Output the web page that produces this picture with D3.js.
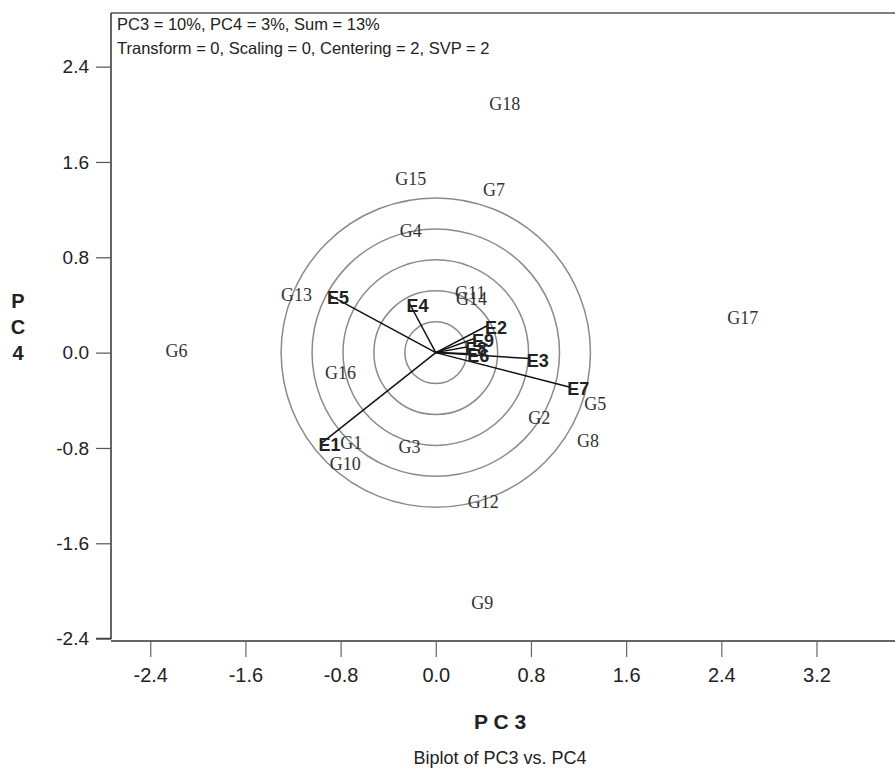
<!DOCTYPE html>
<html>
<head>
<meta charset="utf-8">
<script src="https://cdn.jsdelivr.net/npm/d3@7"></script>
<style>
  html, body { margin: 0; padding: 0; background: #fff; }
  svg { display: block; }
</style>
</head>
<body>
<svg id="chart" width="895" height="768"></svg>
<script>
// ---- Data ----
const genotypeNames = ["G1","G2","G3","G4","G5","G6","G7","G8","G9","G10","G11","G12","G13","G14","G15","G16","G17","G18"];
const genotypePC3 = [-0.71, 0.87, -0.22, -0.21, 1.34, -2.18, 0.49, 1.28, 0.39, -0.76, 0.29, 0.40, -1.17, 0.30, -0.21, -0.80, 2.58, 0.58];
const genotypePC4 = [-0.76, -0.55, -0.79, 1.02, -0.43, 0.02, 1.37, -0.74, -2.10, -0.93, 0.50, -1.25, 0.49, 0.45, 1.46, -0.17, 0.29, 2.09];

const envNames = ["E1","E2","E3","E4","E5","E6","E7","E8","E9"];
const envPC3 = [-0.96, 0.44, 0.79, -0.22, -0.89, 0.29, 1.13, 0.27, 0.33];
const envPC4 = [-0.76, 0.23, -0.05, 0.41, 0.48, -0.01, -0.29, 0.05, 0.12];

const circleRadii = [0.26, 0.52, 0.78, 1.04, 1.30];

const xTicks = [-2.4, -1.6, -0.8, 0.0, 0.8, 1.6, 2.4, 3.2];
const yTicks = [2.4, 1.6, 0.8, 0.0, -0.8, -1.6, -2.4];

const headerLines = ["PC3 = 10%, PC4 = 3%, Sum = 13%", "Transform = 0, Scaling = 0, Centering = 2, SVP = 2"];
const xTitle = "P C 3";
const yTitleChars = ["P", "C", "4"];
const chartTitle = "Biplot of PC3 vs. PC4";

// ---- Layout ----
const svg = d3.select("#chart");
const mLeft = 111, mRight = 895, mTop = 13, mBottom = 641;
const x = d3.scaleLinear().domain([-2.73, 3.86]).range([mLeft, mRight]);
const y = d3.scaleLinear().domain([-2.42, 2.85]).range([mBottom, mTop]);
const unit = x(1) - x(0);

const sans = "'Liberation Sans', Arial, sans-serif";
const serif = "'Liberation Serif', 'Times New Roman', serif";
const fmt = d => d3.format(".1f")(d).replace("\u2212", "-");

// frame top line
svg.append("line").attr("x1", mLeft).attr("x2", mRight).attr("y1", mTop).attr("y2", mTop)
  .attr("stroke", "#555").attr("stroke-width", 1.5);

// y axis
const yAxis = d3.axisLeft(y).tickValues(yTicks).tickFormat(fmt).tickSize(15).tickPadding(7);
const gy = svg.append("g").attr("transform", `translate(${mLeft},0)`).call(yAxis);
gy.select(".domain").attr("d", `M${-15},${y(-2.4)}H0V${mTop}`).attr("stroke", "#333").attr("stroke-width", 1.5);
gy.selectAll(".tick line").attr("stroke", "#555").attr("stroke-width", 1.2);
gy.selectAll(".tick text").attr("font-family", sans).attr("font-size", 19).attr("fill", "#222");

// x axis
const xAxis = d3.axisBottom(x).tickValues(xTicks).tickFormat(fmt).tickSize(16).tickPadding(11);
const gx = svg.append("g").attr("transform", `translate(0,${mBottom})`).call(xAxis);
gx.select(".domain").attr("d", `M${mLeft},0H${mRight}`).attr("stroke", "#333").attr("stroke-width", 1.5);
gx.selectAll(".tick line").attr("stroke", "#666").attr("stroke-width", 1.2);
gx.selectAll(".tick text").attr("font-family", sans).attr("font-size", 20).attr("fill", "#222");

// header
svg.append("g").selectAll("text").data(headerLines).join("text")
  .attr("x", mLeft + 6).attr("y", (d, i) => 30 + i * 24)
  .attr("font-family", sans).attr("font-size", 16.5).attr("fill", "#222")
  .text(d => d);

// concentric circles
svg.append("g").selectAll("circle").data(circleRadii).join("circle")
  .attr("cx", x(0)).attr("cy", y(0)).attr("r", d => d * unit)
  .attr("fill", "none").attr("stroke", "#8a8a8a").attr("stroke-width", 1.5);

// environment vectors
const envData = envNames.map((n, i) => ({ name: n, px: envPC3[i], py: envPC4[i] }));
svg.append("g").selectAll("line").data(envData).join("line")
  .attr("x1", x(0)).attr("y1", y(0))
  .attr("x2", d => x(d.px)).attr("y2", d => y(d.py))
  .attr("stroke", "#111").attr("stroke-width", 1.5);

// genotype labels
const genoData = genotypeNames.map((n, i) => ({ name: n, px: genotypePC3[i], py: genotypePC4[i] }));
svg.append("g").selectAll("text").data(genoData).join("text")
  .attr("x", d => x(d.px)).attr("y", d => y(d.py))
  .attr("text-anchor", "middle").attr("dy", "0.35em")
  .attr("font-family", serif).attr("font-size", 18).attr("fill", "#333")
  .text(d => d.name);

// environment labels
svg.append("g").selectAll("text").data(envData).join("text")
  .attr("x", d => x(d.px) + 8).attr("y", d => y(d.py) + 2)
  .attr("text-anchor", "middle").attr("dy", "0.35em")
  .attr("font-family", sans).attr("font-weight", "bold").attr("font-size", 18).attr("fill", "#222")
  .text(d => d.name);

// axis titles
const midX = (mLeft + mRight) / 2 - 3;
svg.append("text").attr("x", midX).attr("y", 729)
  .attr("text-anchor", "middle").attr("font-family", sans).attr("font-weight", "bold")
  .attr("font-size", 21).attr("fill", "#222").text(xTitle);

svg.append("g").selectAll("text").data(yTitleChars).join("text")
  .attr("x", 18).attr("y", (d, i) => y(0) + (i - 2) * 26).attr("dy", "0.35em")
  .attr("text-anchor", "middle").attr("font-family", sans).attr("font-weight", "bold")
  .attr("font-size", 20).attr("fill", "#222").text(d => d);

svg.append("text").attr("x", midX).attr("y", 764)
  .attr("text-anchor", "middle").attr("font-family", sans)
  .attr("font-size", 18).attr("fill", "#222").text(chartTitle);
</script>
</body>
</html>
